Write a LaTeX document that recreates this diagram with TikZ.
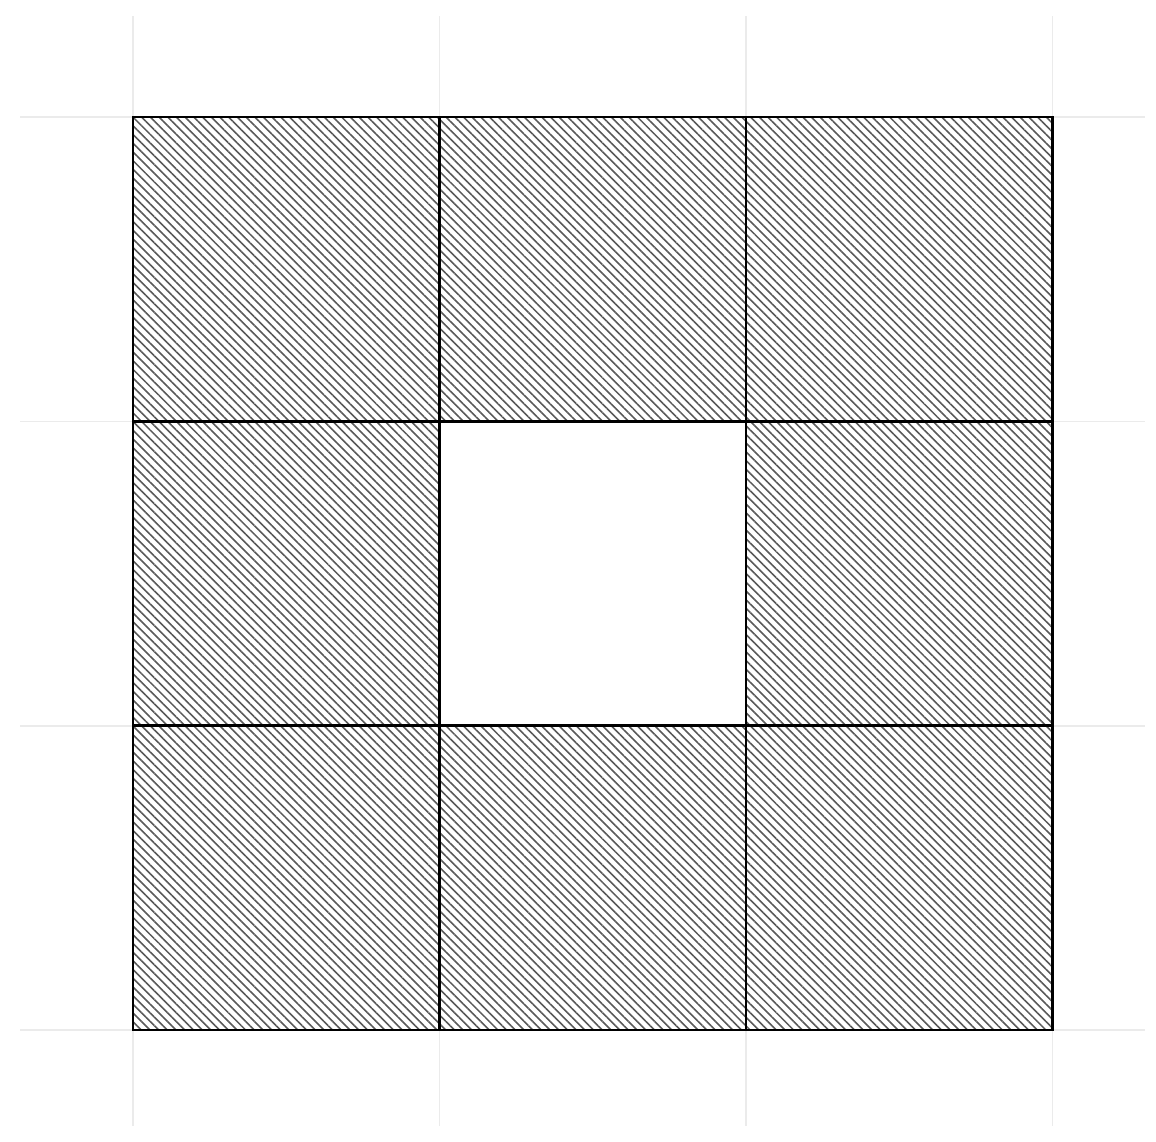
\documentclass[tikz,border=0pt]{standalone}
\usepackage{tikz}
\usetikzlibrary{patterns.meta, positioning}

\begin{document}
\begin{tikzpicture}[
    cell/.style={
        rectangle, draw, line width=0.7pt,
        minimum width=3.065cm, minimum height=3.043cm,
        inner sep=0pt, outer sep=0pt,
        pattern={Lines[angle=-45, distance=1.75pt, line width=0.45pt]},
        pattern color=black!65
    },
    hole/.style={
        rectangle, draw, line width=0.7pt,
        minimum width=3.065cm, minimum height=3.043cm,
        inner sep=0pt, outer sep=0pt, fill=white
    },
    guide/.style={draw=black!8, line width=0.5pt},
]
\useasboundingbox (0,0) rectangle (11.56,11.41);

% --- faint guide lines ---
\foreach \x in {1.33, 4.395, 7.46, 10.525}
    \draw[guide] (\x, 0.15) -- (\x, 11.25);
\foreach \y in {1.11, 4.153, 7.196, 10.24}
    \draw[guide] (0.2, \y) -- (11.45, \y);

% --- hatched cells (3x3, centre left open) ---
\foreach \i in {0,1,2} {
    \foreach \j in {0,1,2} {
        \ifnum\i=1 \ifnum\j=1
            \node[hole] (c-\i-\j) at ({2.8625+3.065*\i}, {2.6315+3.043*\j}) {};
        \else
            \node[cell] (c-\i-\j) at ({2.8625+3.065*\i}, {2.6315+3.043*\j}) {};
        \fi \else
            \node[cell] (c-\i-\j) at ({2.8625+3.065*\i}, {2.6315+3.043*\j}) {};
        \fi
    }
}

% --- outer frame ---
\draw[line width=0.8pt] (c-0-0.south west) rectangle (c-2-2.north east);

\end{tikzpicture}
\end{document}
